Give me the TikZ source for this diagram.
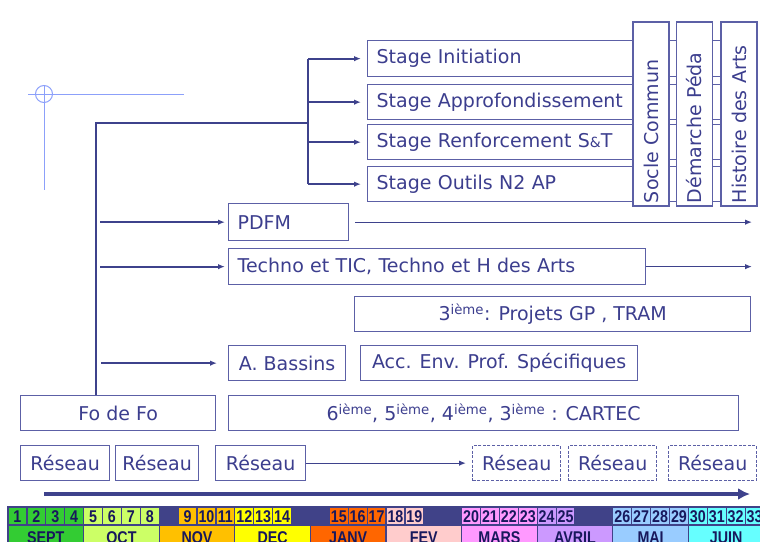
\documentclass[tikz,border=0pt]{standalone}
\usepackage{fontspec}
\setmainfont{DejaVu Sans}
\newfontfamily\tlfont[FakeStretch=0.84]{Liberation Sans}
\usetikzlibrary{arrows.meta}
\definecolor{txt}{RGB}{60,62,142}
\definecolor{edge}{RGB}{92,96,166}
\definecolor{wire}{RGB}{62,66,140}
\definecolor{crossc}{RGB}{140,160,250}
\definecolor{band}{RGB}{64,66,136}
\definecolor{navy}{RGB}{24,24,92}
\definecolor{cSep}{RGB}{51,204,51}
\definecolor{cOct}{RGB}{204,255,102}
\definecolor{cNov}{RGB}{255,192,0}
\definecolor{cDec}{RGB}{255,255,0}
\definecolor{cJan}{RGB}{255,102,0}
\definecolor{cFev}{RGB}{255,204,204}
\definecolor{cMar}{RGB}{255,153,255}
\definecolor{cAvr}{RGB}{204,153,255}
\definecolor{cMai}{RGB}{153,204,255}
\definecolor{cJui}{RGB}{102,255,255}
\newcommand\mainsz{\fontsize{19}{22}\selectfont}
\newcommand\lbox[7][]{%
  \pgfmathsetmacro\rbw{#5-#3}\pgfmathsetmacro\rbh{#6-#4}\pgfmathsetmacro\rtw{#5-#3-18}%
  \node[box,anchor=north west,minimum width=\rbw pt,minimum height=\rbh pt,text width=\rtw pt,inner xsep=9pt,align=left,#1] (#2) at (#3,#4) {#7};}
\newcommand\cbox[7][]{%
  \pgfmathsetmacro\rbw{#5-#3}\pgfmathsetmacro\rbh{#6-#4}%
  \node[box,anchor=north west,minimum width=\rbw pt,minimum height=\rbh pt,align=center,#1] (#2) at (#3,#4) {#7};}
\begin{document}
\begin{tikzpicture}[x=1pt,y=-1pt,
  box/.style={draw=edge,line width=1.3pt,fill=white,inner sep=0pt,text=txt,font=\mainsz},
  dbox/.style={dash pattern=on 3pt off 1.6pt},
  vbox/.style={box,rotate=90,minimum width=184pt,minimum height=36pt,text width=178pt,inner xsep=3pt,align=left},
  conn/.style={draw=wire,line width=1.7pt},
  arr/.style={conn,-{Latex[length=7pt,width=5.5pt]}},
  thinarr/.style={draw=wire,line width=1.3pt,-{Latex[length=7pt,width=5.5pt]}},
  numtxt/.style={anchor=base,inner sep=0pt,text=navy,font=\tlfont\bfseries\fontsize{17}{18}\selectfont},
  monthtxt/.style={anchor=base,inner sep=0pt,text=navy,font=\tlfont\bfseries\fontsize{17}{18}\selectfont}]
\useasboundingbox (0,0) rectangle (760,541);
% light crosshair
\draw[crossc,line width=1pt] (28,94) -- (184,94) (44,86) -- (44,190);
\draw[crossc,line width=1pt] (44,94) circle (8.5);
% stage boxes
\lbox{s1}{367}{40}{740}{76}{Stage Initiation}
\lbox{s2}{367}{84}{740}{119}{Stage Approfondissement}
\lbox{s3}{367}{124}{740}{159}{Stage Renforcement S{\fontsize{14}{14}\selectfont\&}T}
\lbox{s4}{367}{166}{740}{201}{Stage Outils N2 AP}
% vertical boxes
\node[vbox] (v1) at (651,114) {Socle Commun};
\node[vbox] (v2) at (694.5,114) {Démarche Péda};
\node[vbox] (v3) at (739,114) {Histoire des Arts};
% other boxes
\lbox{pdfm}{228}{203}{348}{240}{PDFM}
\lbox{techno}{228}{248}{645}{284}{Techno et TIC, Techno et H des Arts}
\cbox{proj}{354}{296}{750}{331}{3\textsuperscript{ième}: Projets GP , TRAM}
\cbox{bass}{228}{345}{345}{380}{A. Bassins}
\cbox{acc}{360}{345}{637}{380}{Acc. Env. Prof. Spécifiques}
\cbox{fofo}{20}{395}{215}{430}{Fo de Fo}
\cbox{cartec}{228}{395}{738}{430}{6\textsuperscript{ième}, 5\textsuperscript{ième}, 4\textsuperscript{ième}, 3\textsuperscript{ième} : CARTEC}
\cbox{r1}{20}{445}{109}{480}{Réseau}
\cbox{r2}{115}{445}{198}{480}{Réseau}
\cbox{r3}{215}{445}{305}{480}{Réseau}
\cbox[dbox]{r4}{472}{445}{560}{480}{Réseau}
\cbox[dbox]{r5}{568}{445}{656}{480}{Réseau}
\cbox[dbox]{r6}{668}{445}{756}{480}{Réseau}
% tree
\coordinate (trunk) at (96,123);
\coordinate (branch) at (308,123);
\draw[conn] (fofo.north -| trunk) -- (trunk) -- (branch);
\draw[conn] (branch |- s1.west) -- (branch |- s4.west);
\foreach \s in {s1,s2,s3,s4}{\draw[arr,shorten >=6pt] (branch |- \s.west) -- (\s.west);}
\draw[arr,shorten <=4pt,shorten >=3pt] (trunk |- pdfm.west) -- (pdfm.west);
\draw[arr,shorten <=4pt,shorten >=3pt] (trunk |- techno.west) -- (techno.west);
\draw[arr,shorten <=5pt,shorten >=11pt] (trunk |- bass.west) -- (bass.west);
\coordinate (pdfmEnd) at (752,220);
\coordinate (technoEnd) at (752,265);
\draw[thinarr,shorten <=6pt] (pdfm.east) -- (pdfm.east -| pdfmEnd);
\draw[thinarr] (techno.east) -- (techno.east -| technoEnd);
\draw[thinarr,shorten >=6pt] (r3.east) -- (r4.west);
% big timeline arrow
\coordinate (tA) at (44,494);
\coordinate (tB) at (750,494);
\draw[wire,line width=4.5pt,-{Latex[length=12pt,width=12pt]}] (tA) -- (tB);
% calendar strip
\fill[band] (6.5,506) rectangle (770,550);
\foreach \n/\s/\c in {1/0/cSep,2/1/cSep,3/2/cSep,4/3/cSep,5/4/cOct,6/5/cOct,7/6/cOct,8/7/cOct,
  9/9/cNov,10/10/cNov,11/11/cNov,12/12/cDec,13/13/cDec,14/14/cDec,15/17/cJan,16/18/cJan,17/19/cJan,
  18/20/cFev,19/21/cFev,20/24/cMar,21/25/cMar,22/26/cMar,23/27/cMar,24/28/cAvr,25/29/cAvr,
  26/32/cMai,27/33/cMai,28/34/cMai,29/35/cMai,30/36/cJui,31/37/cJui,32/38/cJui,33/39/cJui}{
  \fill[fill=\c] ({8+18.9*\s+0.6},507.5) rectangle ({8+18.9*\s+18.3},524.3);
  \node[numtxt] at ({8+18.9*\s+9.45},522.8) {\n};
}
\foreach \m/\s/\c in {SEPT/0/cSep,OCT/4/cOct,NOV/8/cNov,DEC/12/cDec,JANV/16/cJan,FEV/20/cFev,
  MARS/24/cMar,AVRIL/28/cAvr,MAI/32/cMai,JUIN/36/cJui}{
  \fill[fill=\c] ({8+18.9*\s+0.6},525.8) rectangle ({8+18.9*(\s+4)-0.6},550);
  \node[monthtxt] at ({8+18.9*\s+37.8},543.5) {\m};
}
\end{tikzpicture}
\end{document}
